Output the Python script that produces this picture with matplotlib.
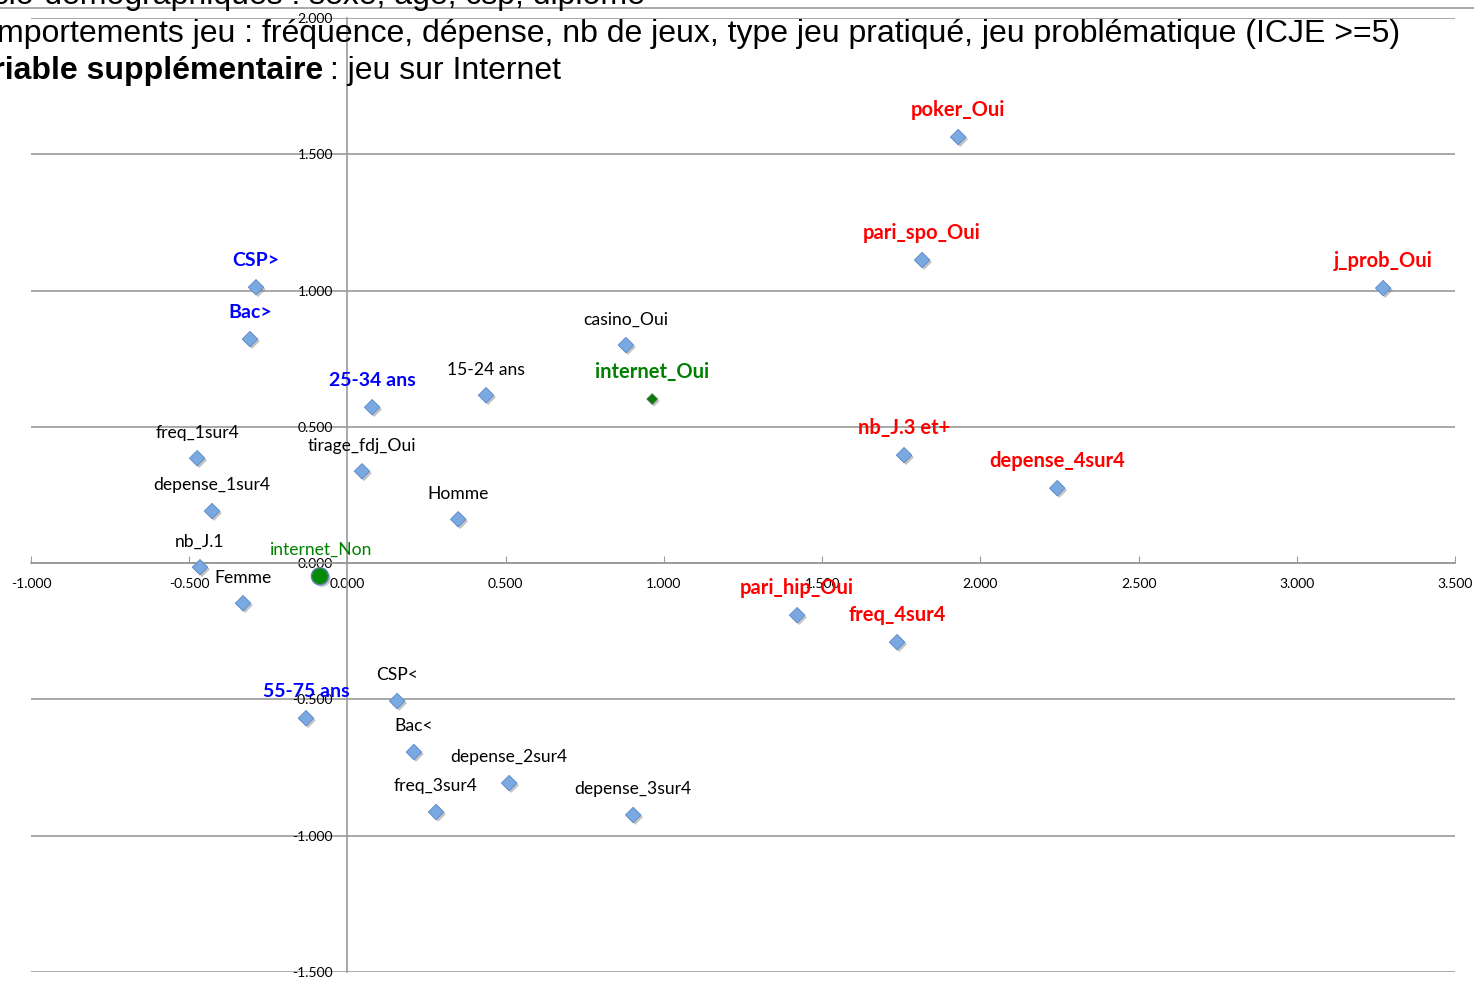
import matplotlib
matplotlib.use("Agg")
import matplotlib.pyplot as plt
import matplotlib.patheffects as pe
from matplotlib.lines import Line2D

# ACM factorial map: modalities and their coordinates on axes 1 / 2
labels = ["poker_Oui", "pari_spo_Oui", "j_prob_Oui", "CSP>", "Bac>", "casino_Oui",
          "25-34 ans", "15-24 ans", "freq_1sur4", "tirage_fdj_Oui", "nb_J.3 et+",
          "depense_4sur4", "depense_1sur4", "Homme", "nb_J.1", "Femme",
          "pari_hip_Oui", "freq_4sur4", "55-75 ans", "CSP<", "Bac<",
          "depense_2sur4", "freq_3sur4", "depense_3sur4"]
x_vals = [1.930, 1.816, 3.273, -0.289, -0.308, 0.880,
          0.078, 0.438, -0.475, 0.046, 1.759,
          2.243, -0.428, 0.350, -0.466, -0.330,
          1.421, 1.737, -0.131, 0.157, 0.210,
          0.511, 0.280, 0.903]
y_vals = [1.563, 1.112, 1.009, 1.012, 0.822, 0.800,
          0.572, 0.616, 0.385, 0.337, 0.396,
          0.275, 0.191, 0.161, -0.015, -0.147,
          -0.191, -0.290, -0.569, -0.506, -0.693,
          -0.807, -0.913, -0.924]
# group: 'jeu' = highlighted gambling modality, 'demo' = highlighted socio-demo, '' = plain
groups = ["jeu", "jeu", "jeu", "demo", "demo", "",
          "demo", "", "", "", "jeu",
          "jeu", "", "", "", "",
          "jeu", "jeu", "demo", "", "",
          "", "", ""]

# supplementary variable
supp_labels = ["internet_Oui", "internet_Non"]
supp_x = [0.963, -0.087]
supp_y = [0.602, -0.048]

x_ticks = [-1.0, -0.5, 0.0, 0.5, 1.0, 1.5, 2.0, 2.5, 3.0, 3.5]
y_ticks = [-1.5, -1.0, -0.5, 0.0, 0.5, 1.0, 1.5, 2.0]

W, H = 1474, 981
fig = plt.figure(figsize=(W / 100, H / 100), dpi=100)
ax = fig.add_axes([31 / W, 1 - 972 / H, (1455 - 31) / W, (972 - 18) / H])
ax.set_xlim(-1.0, 3.5)
ax.set_ylim(-1.5, 2.0)

grid_c = "#9a9a9a"
for s in ["top", "right"]:
    ax.spines[s].set_visible(False)
ax.spines["bottom"].set_position(("data", 0))
ax.spines["left"].set_position(("data", 0))
for s in ["bottom", "left"]:
    ax.spines[s].set_color(grid_c)
    ax.spines[s].set_linewidth(1.2)
ax.yaxis.grid(True, color=grid_c, lw=1.2)
ax.set_axisbelow(True)

ax.set_xticks(x_ticks)
ax.set_yticks(y_ticks)
ax.set_xticklabels([f"{v:.3f}" for v in x_ticks])
ax.set_yticklabels([f"{v:.3f}" for v in y_ticks])
ax.tick_params(axis="x", direction="in", length=5, color=grid_c, pad=11,
               labelsize=10)
ax.tick_params(axis="y", length=0, pad=10.5, labelsize=10)
for t in ax.get_xticklabels() + ax.get_yticklabels():
    t.set_family("Lato")

shadow = [pe.SimplePatchShadow(offset=(1.5, -1.5), shadow_rgbFace="#888888", alpha=0.5),
          pe.Normal()]

sc = ax.scatter(x_vals, y_vals, marker="D", s=62, color="#7aa8e0",
                edgecolor="#5a88c8", linewidth=0.6, zorder=3)
sc.set_path_effects(shadow)

# supplementary points
s1 = ax.scatter(supp_x[:1], supp_y[:1], marker="D", s=30, color="#0b7a0b",
                edgecolor="#4a7a4a", linewidth=0.6, zorder=4)
s2 = ax.scatter(supp_x[1:], supp_y[1:], marker="o", s=150, color="#078a07",
                edgecolor="#5a7fb0", linewidth=1.0, zorder=4)
s1.set_path_effects(shadow)
s2.set_path_effects(shadow)

styles = {"jeu": ("#ff0000", "bold", 14.5), "demo": ("#0000ff", "bold", 14),
          "": ("black", "normal", 12.6)}
for lab, xv, yv, g in zip(labels, x_vals, y_vals, groups):
    c, w, fs = styles[g]
    off = 19.5 if w == "bold" else 18.5
    ax.annotate(lab, (xv, yv), xytext=(0, off), textcoords="offset points",
                ha="center", va="center", fontsize=fs, color=c,
                fontweight=w, family="Lato", zorder=5)

ax.annotate(supp_labels[0], (supp_x[0], supp_y[0]), xytext=(0, 19.5),
            textcoords="offset points", ha="center", va="center", fontsize=14.5,
            color="#008000", fontweight="bold", family="Lato", zorder=5)
ax.annotate(supp_labels[1], (supp_x[1], supp_y[1]), xytext=(0, 19),
            textcoords="offset points", ha="center", va="center", fontsize=12.6,
            color="#008000", family="Lato", zorder=5)

# header text, cropped at the left / top edge as in the original slide
title_font = ["Liberation Sans Narrow", "Liberation Sans"]
fig.text(645 / W, 1 - 4 / H, "Variables socio-démographiques : sexe, âge, csp, diplôme",
         ha="right", va="baseline", fontsize=23, family=title_font)
fig.text(1400 / W, 1 - 42 / H,
         "Comportements jeu : fréquence, dépense, nb de jeux, type jeu pratiqué, "
         "jeu problématique (ICJE >=5)",
         ha="right", va="baseline", fontsize=23, family=title_font)
fig.text(323 / W, 1 - 79 / H, "Variable supplémentaire", ha="right", va="baseline",
         fontsize=23, fontweight="bold", family=title_font)
fig.text(330 / W, 1 - 79 / H, ": jeu sur Internet", ha="left", va="baseline",
         fontsize=23, family=title_font)
fig.add_artist(Line2D([0, 1], [1 - 8 / H] * 2, color=grid_c, lw=1.2))

fig.savefig("out.png", dpi=100)
